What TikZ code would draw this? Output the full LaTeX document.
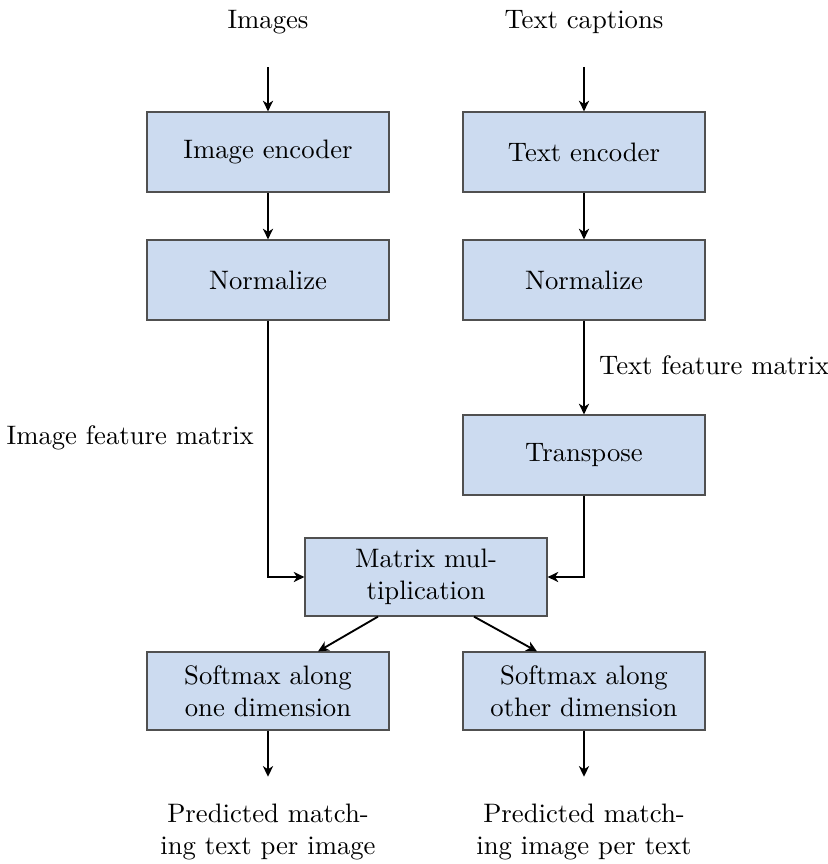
\documentclass[tikz,border=0pt]{standalone}
\usetikzlibrary{calc,arrows.meta}
\definecolor{boxfill}{RGB}{204,219,240}
\definecolor{boxline}{RGB}{80,80,80}
\tikzset{
  procbox/.style={draw=boxline, line width=0.45pt, fill=boxfill, minimum width=242*0.3745pt, minimum height=80*0.3745pt, align=center, inner sep=2pt},
  plain/.style={align=center, inner sep=1pt},
  conn/.style={-{Stealth[length=4pt,width=3.8pt,inset=1.2pt]}, line width=0.7pt},
}
\begin{document}
\begin{tikzpicture}[x=0.3745pt, y=-0.3745pt]
\useasboundingbox (0,0) rectangle (828,864);
\node[plain] (imgs) at (268,22) {Images};
\node[plain] (txts) at (584,22) {Text captions};
\node[procbox] (ienc) at (268,152) {Image encoder};
\node[procbox] (tenc) at (584,152) {Text encoder};
\node[procbox] (inorm) at (268,280) {Normalize};
\node[procbox] (tnorm) at (584,280) {Normalize};
\node[procbox] (trans) at (584,455) {Transpose};
\node[procbox, minimum height=78*0.3745pt] (mm) at (426,577) {Matrix mul-\\tiplication};
\node[procbox, minimum height=78*0.3745pt] (smone) at (268,691) {Softmax along\\one dimension};
\node[procbox, minimum height=78*0.3745pt] (smtwo) at (584,691) {Softmax along\\other dimension};
\node[plain] (outone) at (268,832) {Predicted match-\\ing text per image};
\node[plain] (outtwo) at (584,832) {Predicted match-\\ing image per text};
\node[plain, anchor=west] (tfm) at (596,365) {Text feature matrix};
\node[plain, anchor=east] (ifm) at (257,438) {Image feature matrix};

\draw[conn, shorten <=30*0.3745pt] (imgs.south) -- (ienc.north);
\draw[conn, shorten <=30*0.3745pt] (txts.south) -- (tenc.north);
\draw[conn] (ienc) -- (inorm);
\draw[conn] (tenc) -- (tnorm);
\draw[conn] (tnorm) -- (trans);
\draw[conn] (inorm.south) |- (mm.west);
\draw[conn] (trans.south) |- (mm.east);
\draw[conn] ($(mm.south)+(-48,0)$) -- ($(smone.north)+(50,0)$);
\draw[conn] ($(mm.south)+(48,0)$) -- ($(smtwo.north)+(-47,0)$);
\draw[conn, shorten >=24*0.3745pt] (smone.south) -- (outone.north);
\draw[conn, shorten >=24*0.3745pt] (smtwo.south) -- (outtwo.north);
\end{tikzpicture}
\end{document}
